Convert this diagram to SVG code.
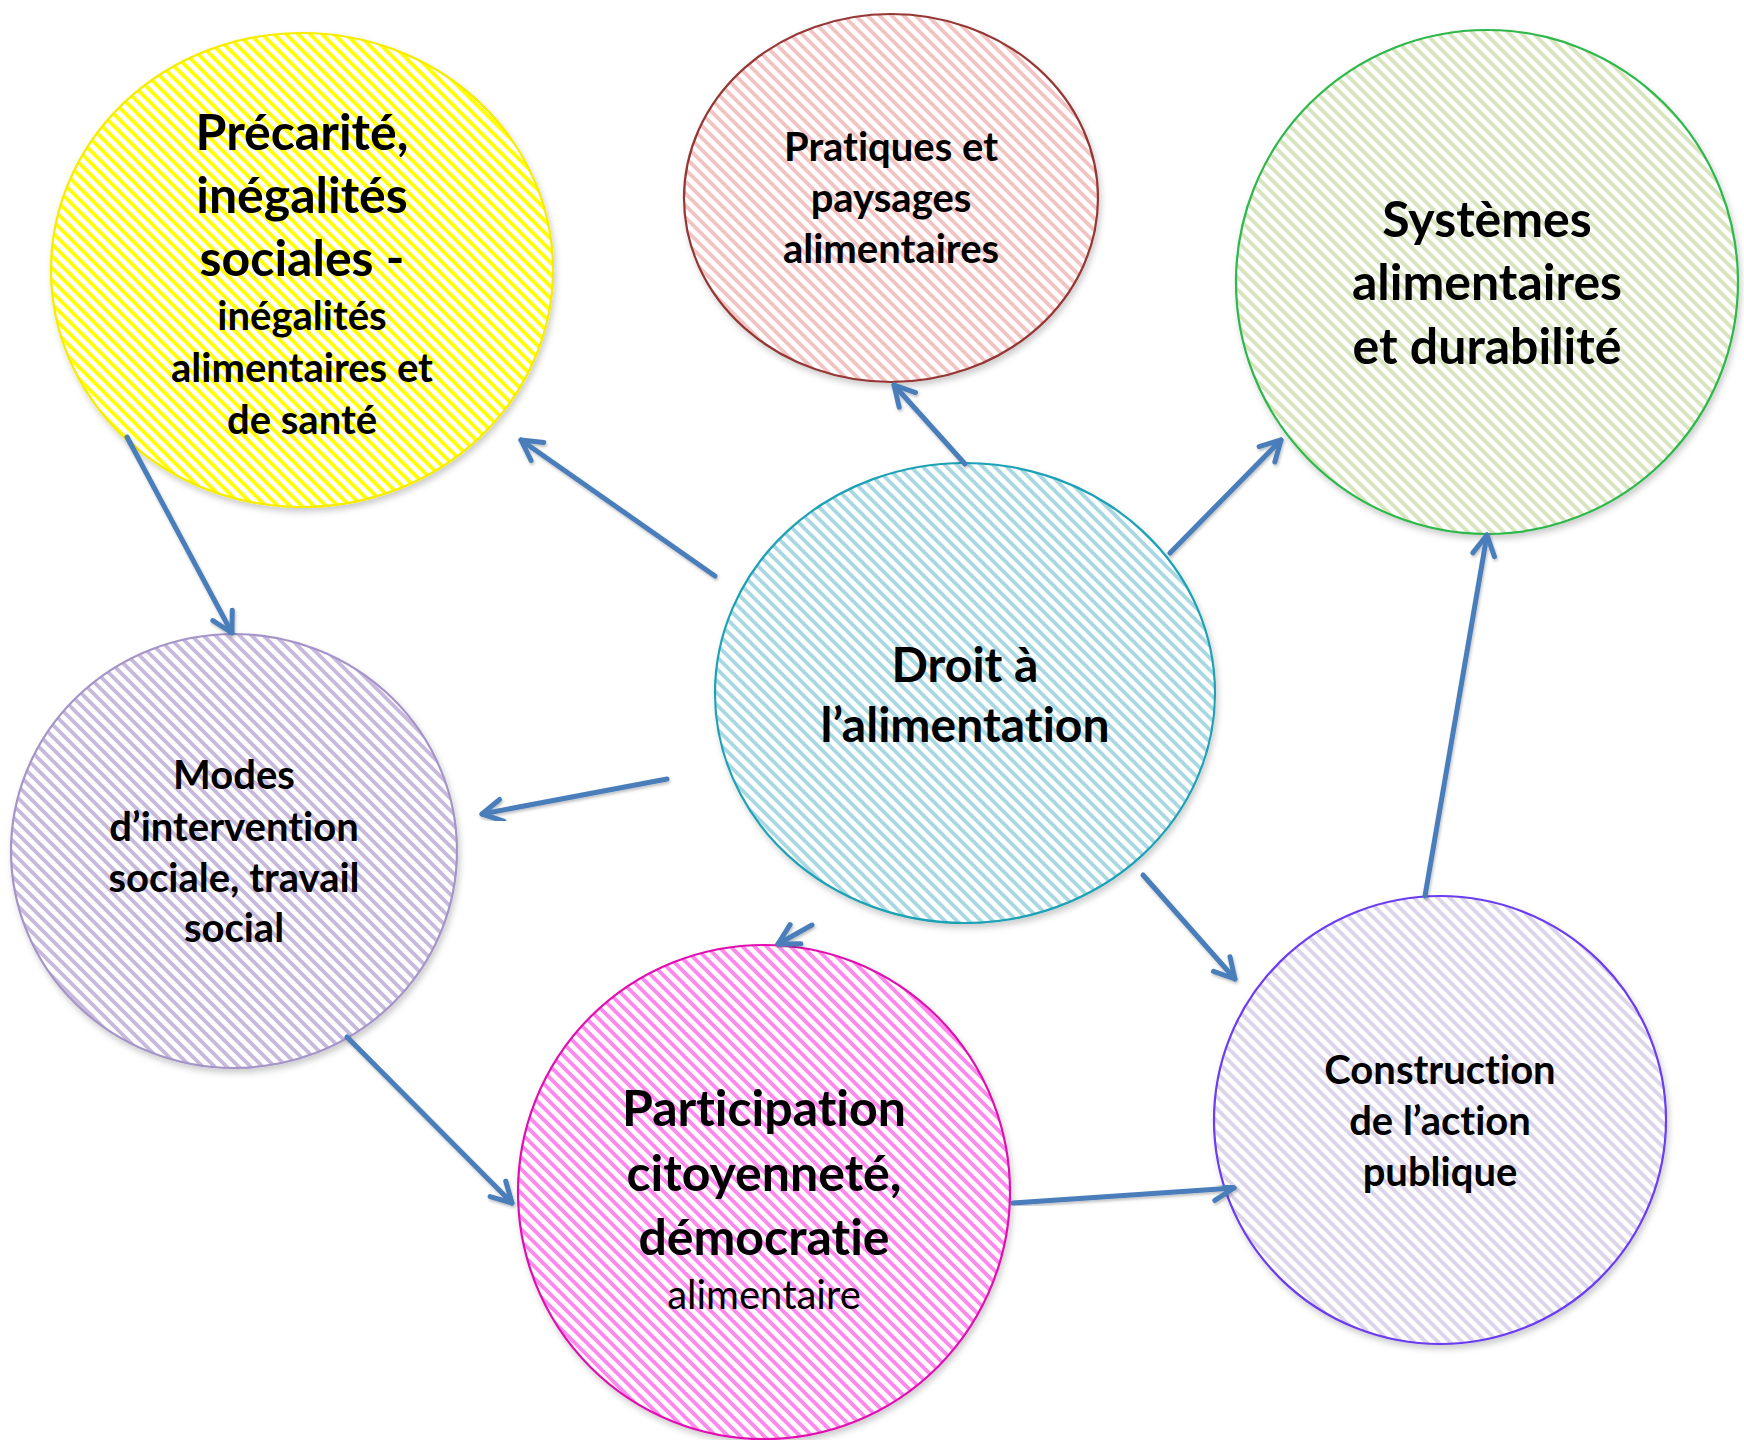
<svg xmlns="http://www.w3.org/2000/svg" width="1744" height="1440" viewBox="0 0 1744 1440">
<style>
.t{font-family:Lato,"Open Sans","Liberation Sans",sans-serif;font-weight:700;text-anchor:middle;fill:#000;font-variant-ligatures:none;font-feature-settings:"liga" 0,"clig" 0}
.big{font-size:50px}
.mid{font-size:40px}
.ctr{font-size:48px}
.reg{font-weight:400}
.node ellipse{stroke-width:2.2;filter:url(#sh)}
.conn line{stroke:#4A7EBB;stroke-width:5;stroke-linecap:round;fill:none;filter:url(#sh2)}
</style>
<defs>
<filter id="sh" x="-10%" y="-10%" width="125%" height="125%"><feDropShadow dx="2" dy="4" stdDeviation="3" flood-color="#000" flood-opacity="0.2"/></filter>
<filter id="sh2" x="-20%" y="-20%" width="140%" height="140%"><feDropShadow dx="1" dy="2" stdDeviation="1.5" flood-color="#000" flood-opacity="0.25"/></filter>
<pattern id="pY" patternUnits="userSpaceOnUse" width="12" height="12"><rect width="12" height="12" fill="#fff"/><path d="M-3,-3L15,15M-3,9L3,15M9,-3L15,3" stroke="#FFFF00" stroke-width="3.8"/></pattern>
<pattern id="pR" patternUnits="userSpaceOnUse" width="12" height="12"><rect width="12" height="12" fill="#fff"/><path d="M-3,-3L15,15M-3,9L3,15M9,-3L15,3" stroke="#F2C4C4" stroke-width="3.8"/></pattern>
<pattern id="pG" patternUnits="userSpaceOnUse" width="12" height="12"><rect width="12" height="12" fill="#fff"/><path d="M-3,-3L15,15M-3,9L3,15M9,-3L15,3" stroke="#D7E4BD" stroke-width="3.8"/></pattern>
<pattern id="pC" patternUnits="userSpaceOnUse" width="12" height="12"><rect width="12" height="12" fill="#fff"/><path d="M-3,-3L15,15M-3,9L3,15M9,-3L15,3" stroke="#A9D8E2" stroke-width="3.8"/></pattern>
<pattern id="pL" patternUnits="userSpaceOnUse" width="12" height="12"><rect width="12" height="12" fill="#fff"/><path d="M-3,-3L15,15M-3,9L3,15M9,-3L15,3" stroke="#C7B9DB" stroke-width="3.8"/></pattern>
<pattern id="pM" patternUnits="userSpaceOnUse" width="12" height="12"><rect width="12" height="12" fill="#fff"/><path d="M-3,-3L15,15M-3,9L3,15M9,-3L15,3" stroke="#FF88EE" stroke-width="3.8"/></pattern>
<pattern id="pV" patternUnits="userSpaceOnUse" width="12" height="12"><rect width="12" height="12" fill="#fff"/><path d="M-3,-3L15,15M-3,9L3,15M9,-3L15,3" stroke="#DCD5EA" stroke-width="3.8"/></pattern>
<marker id="ah" markerUnits="userSpaceOnUse" markerWidth="34" markerHeight="34" refX="25" refY="16" orient="auto" overflow="visible"><path d="M5,5L25,16L5,27" fill="none" stroke="#4A7EBB" stroke-width="5" stroke-linecap="round" stroke-linejoin="round"/></marker>
</defs>
<rect width="1744" height="1440" fill="#fff"/>

<g id="n-precarite" class="node">
<ellipse cx="302" cy="270" rx="251" ry="237" fill="url(#pY)" stroke="#F5EC00"/>
<text class="t big" x="302" y="150">Précarité,</text>
<text class="t big" x="302" y="213">inégalités</text>
<text class="t big" x="302" y="276">sociales -</text>
<text class="t mid" x="302" y="330">inégalités</text>
<text class="t mid" x="302" y="382">alimentaires et</text>
<text class="t mid" x="302" y="434">de santé</text>
</g>

<g id="n-pratiques" class="node">
<ellipse cx="891" cy="198" rx="207" ry="184" fill="url(#pR)" stroke="#953735"/>
<text class="t mid" x="891" y="161">Pratiques et</text>
<text class="t mid" x="891" y="212">paysages</text>
<text class="t mid" x="891" y="263">alimentaires</text>
</g>

<g id="n-systemes" class="node">
<ellipse cx="1487" cy="282" rx="251" ry="252" fill="url(#pG)" stroke="#2DB84B"/>
<text class="t big" x="1487" y="237">Systèmes</text>
<text class="t big" x="1487" y="300">alimentaires</text>
<text class="t big" x="1487" y="364">et durabilité</text>
</g>

<g id="n-droit" class="node">
<ellipse cx="965" cy="693" rx="250" ry="230" fill="url(#pC)" stroke="#1BA1B5"/>
<text class="t ctr" x="965" y="682">Droit à</text>
<text class="t ctr" x="965" y="742">l’alimentation</text>
</g>

<g id="n-modes" class="node">
<ellipse cx="234" cy="851" rx="223" ry="217" fill="url(#pL)" stroke="#A594C8"/>
<text class="t mid" x="234" y="789">Modes</text>
<text class="t mid" x="234" y="841">d’intervention</text>
<text class="t mid" x="234" y="892">sociale, travail</text>
<text class="t mid" x="234" y="942">social</text>
</g>

<g id="n-participation" class="node">
<ellipse cx="764" cy="1192" rx="246" ry="247" fill="url(#pM)" stroke="#E010B0"/>
<text class="t big" x="764" y="1126">Participation</text>
<text class="t big" x="764" y="1191">citoyenneté,</text>
<text class="t big" x="764" y="1255">démocratie</text>
<text class="t mid reg" x="764" y="1309">alimentaire</text>
</g>

<g id="n-construction" class="node">
<ellipse cx="1440" cy="1120" rx="226" ry="224" fill="url(#pV)" stroke="#6A3CF0"/>
<text class="t mid" x="1440" y="1084">Construction</text>
<text class="t mid" x="1440" y="1135">de l’action</text>
<text class="t mid" x="1440" y="1186">publique</text>
</g>

<g id="connectors" class="conn">
<line x1="715" y1="164" x2="577" y2="164" marker-end="url(#ah)"/>
<line x1="1254" y1="164" x2="1100" y2="164" marker-end="url(#ah)"/>
<line x1="965" y1="464" x2="894" y2="385" marker-end="url(#ah)"/>
<line x1="715" y1="576" x2="521" y2="440" marker-end="url(#ah)"/>
<line x1="1170" y1="553" x2="1281" y2="440" marker-end="url(#ah)"/>
<line x1="127" y1="437" x2="232" y2="633" marker-end="url(#ah)"/>
<line x1="667" y1="779" x2="482" y2="814" marker-end="url(#ah)"/>
<line x1="812" y1="925" x2="778" y2="944" marker-end="url(#ah)"/>
<line x1="1143" y1="875" x2="1235" y2="979" marker-end="url(#ah)"/>
<line x1="347" y1="1037" x2="512" y2="1203" marker-end="url(#ah)"/>
<line x1="1013" y1="1203" x2="1234" y2="1188" marker-end="url(#ah)"/>
<line x1="1425" y1="896" x2="1487" y2="535" marker-end="url(#ah)"/>
</g>
</svg>
